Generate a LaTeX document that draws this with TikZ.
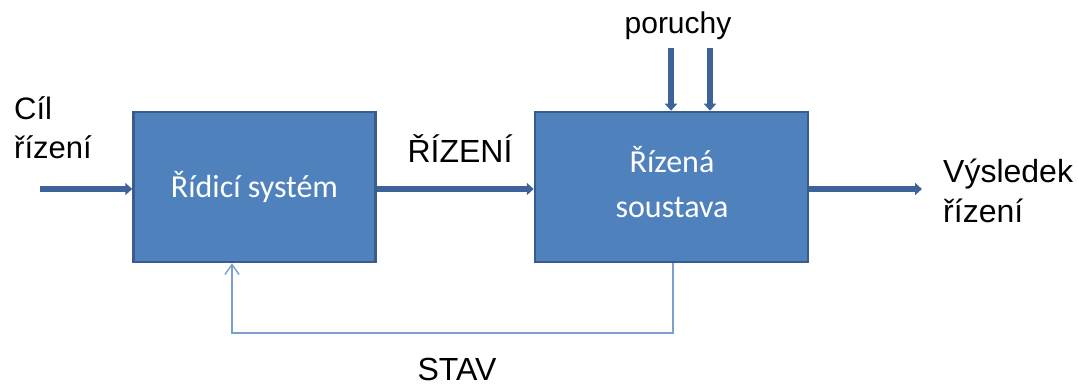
\documentclass[tikz,border=0pt]{standalone}
\usepackage{fontspec}
\setmainfont{Liberation Sans}
\newfontfamily\boxfont{Carlito}
\usetikzlibrary{arrows.meta}
\definecolor{boxfill}{HTML}{4F81BD}
\definecolor{boxline}{HTML}{385D8A}
\definecolor{arrowcol}{HTML}{3D639A}
\definecolor{fbcol}{HTML}{7BA0D0}
\tikzset{
  blockbox/.style={draw=boxline, line width=2.5pt, fill=boxfill, minimum width=#1, minimum height=150pt, inner sep=0pt},
  thickarrow/.style={draw=arrowcol, line width=6pt, -{Triangle[length=7pt,width=12pt]}},
  fbarrow/.style={draw=fbcol, line width=1.4pt, -{Straight Barb[length=10pt,width=14pt,line width=1.4pt]}},
  lbl/.style={font=\fontsize{32}{38}\selectfont, inner sep=0pt, anchor=base},
  boxtxt/.style={font=\boxfont\fontsize{32}{38}\selectfont, text=white, inner sep=0pt, anchor=base}
}
\begin{document}
\begin{tikzpicture}[x=1pt,y=-1pt]
\useasboundingbox (0,0) rectangle (1078,385);
\node[blockbox=242pt] (rs) at (254.5,187) {};
\node[blockbox=273pt] (ss) at (671.5,187) {};
\node[boxtxt] (rst) at (254.5,197) {Řídicí systém};
\node[boxtxt] (sst1) at (672,172) {Řízená};
\node[boxtxt] (sst2) at (672,217) {soustava};
\coordinate (in) at (40,189);
\coordinate (out) at (922,189);
\coordinate (p1) at (671,48);
\coordinate (p2) at (710,48);
\node[lbl, anchor=base west, font=\fontsize{31}{37}\selectfont] (cil1) at (14,120) {Cíl};
\node[lbl, anchor=base west, font=\fontsize{31}{37}\selectfont] (cil2) at (14,158) {řízení};
\node[lbl] (riz) at (460,162) {ŘÍZENÍ};
\node[lbl, font=\fontsize{30}{36}\selectfont] (por) at (678,34) {poruchy};
\node[lbl, anchor=base west] (vys1) at (943,182) {Výsledek};
\node[lbl, anchor=base west] (vys2) at (943,222) {řízení};
\node[lbl] (stav) at (457,380) {STAV};
\draw[thickarrow] (in) -- (in -| rs.west);
\draw[thickarrow] (rs.east |- in) -- (ss.west |- in);
\draw[thickarrow] (ss.east |- in) -- (out);
\draw[thickarrow] (p1) -- (p1 |- ss.north);
\draw[thickarrow] (p2) -- (p2 |- ss.north);
\coordinate (fb1) at (673,333);
\coordinate (fb2) at (232,333);
\draw[fbarrow] (fb1 |- ss.south) -- (fb1) -- (fb2) -- (fb2 |- rs.south);
\end{tikzpicture}
\end{document}
